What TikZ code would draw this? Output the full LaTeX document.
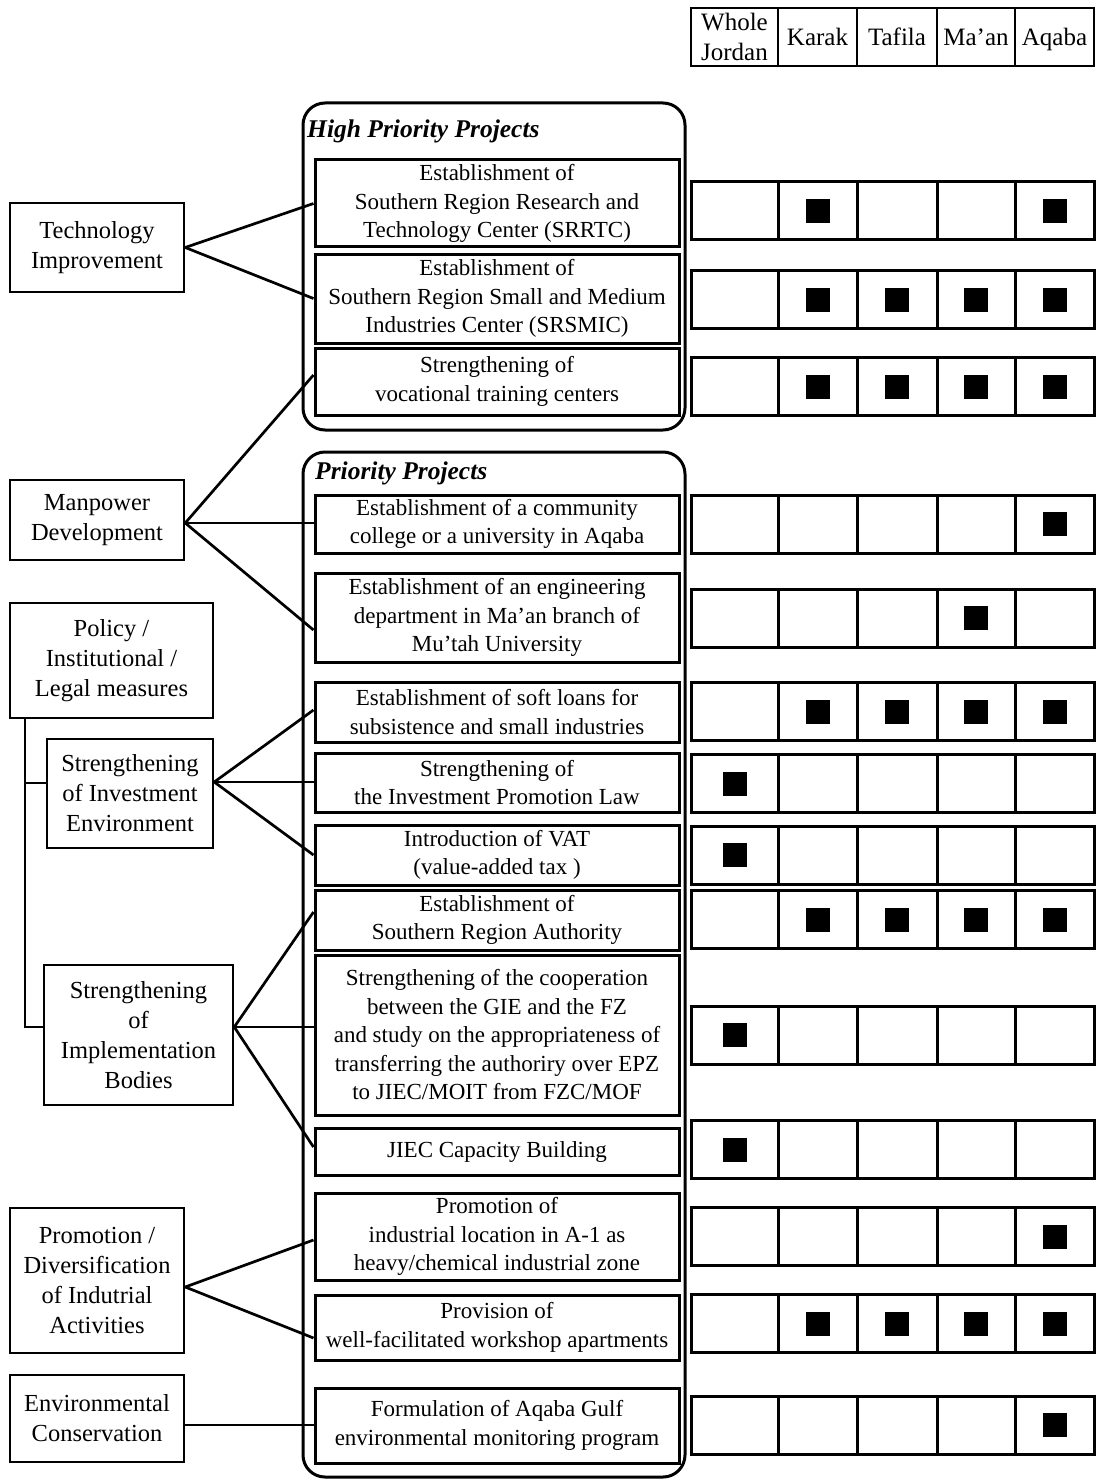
\documentclass[tikz,border=0pt]{standalone}
\usepackage{fontspec}
\setmainfont{Liberation Serif}
\usepackage{tikz}
\usetikzlibrary{calc}
\newcommand{\projsize}{\fontsize{23}{28.5}\selectfont}
\newcommand{\aimsize}{\fontsize{24.5}{30}\selectfont}
\newcommand{\headsize}{\fontsize{25}{30}\selectfont}

\begin{document}
\begin{tikzpicture}[x=1pt, y=-1pt,
  aim/.style={draw, line width=2.5pt, inner sep=0pt, align=center, font=\aimsize},
  proj/.style={draw, line width=3pt, inner sep=0pt, minimum width=364, align=center, font=\projsize},
  head/.style={draw, line width=2.5pt, inner sep=0pt, minimum height=58, text depth=0pt, align=center, font=\headsize},
  frame/.style={line width=3pt, rounded corners=22pt},
  title/.style={anchor=west, inner sep=0pt, font=\fontsize{25.5}{28}\selectfont\bfseries\itshape},
  cell/.style={line width=3pt},
  link/.style={line width=2.7pt},
  flat/.style={line width=1.5pt}]

  \useasboundingbox (0, 0) rectangle (1100, 1479);

  % column heads
  \foreach \xl/\xr/\name/\txt in {691/778/wj/{Whole\\Jordan}, 778/857/ka/Karak,
                                  857/937/ta/Tafila, 937/1015/ma/Ma'an, 1015/1094/aq/Aqaba} {
    \node[head, minimum width=\xr-\xl] (\name) at ({(\xl+\xr)/2}, 37) {\txt};
  }

  % the two project groups
  \draw[frame] (303, 103) rectangle (685, 430);
  \draw[frame] (303, 452) rectangle (685, 1477);
  \node[title] (hptitle) at (307, 131) {High Priority Projects};
  \node[title] (ptitle) at (315, 473) {Priority Projects};

  \node[proj, minimum height=87] (hp1) at (497, 203.5) {Establishment of\\Southern Region Research and\\Technology Center (SRRTC)};
  \node[proj, minimum height=89] (hp2) at (497, 298.5) {Establishment of\\Southern Region Small and Medium\\Industries Center (SRSMIC)};
  \node[proj, minimum height=67] (hp3) at (497, 381.5) {Strengthening of\\vocational training centers};

  \node[proj, minimum height=58] (p1) at (497, 524) {Establishment of a community\\college or a university in Aqaba};
  \node[proj, minimum height=89] (p2) at (497, 617.5) {Establishment of an engineering\\department in Ma'an branch of\\Mu'tah University};
  \node[proj, minimum height=60] (p3) at (497, 712) {Establishment of soft loans for\\subsistence and small industries};
  \node[proj, minimum height=59] (p4) at (497, 782.5) {Strengthening of\\the Investment Promotion Law};
  \node[proj, minimum height=60] (p5) at (497, 855) {Introduction of VAT\\(value-added tax )};
  \node[proj, minimum height=60] (p6) at (497, 920) {Establishment of\\Southern Region Authority};
  \node[proj, minimum height=160] (p7) at (497, 1035) {Strengthening of the cooperation\\between the GIE and the FZ\\and study on the appropriateness of\\transferring the authoriry over EPZ\\to JIEC/MOIT from FZC/MOF};
  \node[proj, minimum height=47] (p8) at (497, 1151.5) {JIEC Capacity Building};
  \node[proj, minimum height=87] (p9) at (497, 1236.5) {Promotion of\\industrial location in A-1 as\\heavy/chemical industrial zone};
  \node[proj, minimum height=65] (p10) at (497, 1327.5) {Provision of\\well-facilitated workshop apartments};
  \node[proj, minimum height=75] (p11) at (497, 1425.5) {Formulation of Aqaba Gulf\\environmental monitoring program};

  % aims on the left
  \node[aim, minimum width=174, minimum height=89] (tech) at (97, 247.5) {Technology\\Improvement};
  \node[aim, minimum width=174, minimum height=80] (man) at (97, 520) {Manpower\\Development};
  \node[aim, minimum width=203, minimum height=115] (pol) at (111.5, 660.5) {Policy /\\Institutional /\\Legal measures};
  \node[aim, minimum width=166, minimum height=109] (sie) at (130, 793.5) {Strengthening\\of Investment\\Environment};
  \node[aim, minimum width=189, minimum height=140] (sib) at (138.5, 1035) {Strengthening\\of\\Implementation\\Bodies};
  \node[aim, minimum width=174, minimum height=145] (pro) at (97, 1280.5) {Promotion /\\Diversification\\of Indutrial\\Activities};
  \node[aim, minimum width=174, minimum height=87] (env) at (97, 1418.5) {Environmental\\Conservation};

  \coordinate (manout) at ([yshift=-3pt]man.east);
  \coordinate (sieout) at ([yshift=11.5pt]sie.east);
  \coordinate (sibout) at ([yshift=8pt]sib.east);
  \coordinate (proout) at ([yshift=-6.5pt]pro.east);
  \coordinate (envout) at ([yshift=-6.5pt]env.east);
  \coordinate (trunk) at ([xshift=16pt]pol.south west);

  \draw[link] (tech.east) -- (hp1.west);
  \draw[link] (tech.east) -- (hp2.west);
  \draw[link] (manout) -- ([yshift=6.5pt]hp3.west);
  \draw[flat] (manout) -- (manout -| p1.west);
  \draw[link] (manout) -- ([yshift=-12.5pt]p2.west);
  \draw[link] (sieout) -- ([yshift=2pt]p3.west);
  \draw[flat] (sieout) -- (sieout -| p4.west);
  \draw[link] (sieout) -- (p5.west);
  \draw[link] (sibout) -- ([yshift=8pt]p6.west);
  \draw[flat] (sibout) -- (sibout -| p7.west);
  \draw[link] (sibout) -- ([yshift=4.5pt]p8.west);
  \draw[link] (proout) -- ([yshift=-3.5pt]p9.west);
  \draw[link] (proout) -- ([yshift=-10.5pt]p10.west);
  \draw[flat] (envout) -- (envout -| p11.west);
  \draw[line width=2pt] (trunk) |- ([yshift=10.5pt]sie.west);
  \draw[line width=2pt] (trunk) |- ([yshift=8pt]sib.west);

  % location grid with marks
  \foreach \y/\cols in {211/{2,5}, 299.5/{2,3,4,5}, 386.5/{2,3,4,5}, 524/{5}, 618/{4},
                        711.5/{2,3,4,5}, 783.5/{1}, 855/{1}, 919.5/{2,3,4,5}, 1035/{1},
                        1149.5/{1}, 1236.5/{5}, 1323.5/{2,3,4,5}, 1425/{5}} {
    \foreach \xl/\xr in {691/778, 778/857, 857/937, 937/1015, 1015/1094}
      \draw[cell] (\xl, \y - 29) rectangle (\xr, \y + 29);
    \foreach \n in \cols {
      \pgfmathsetmacro{\cx}{{734.5, 817.5, 897, 976, 1054.5}[\n - 1]}
      \fill (\cx - 12, \y - 12) rectangle ++(24, 24);
    }
  }

\end{tikzpicture}
\end{document}
